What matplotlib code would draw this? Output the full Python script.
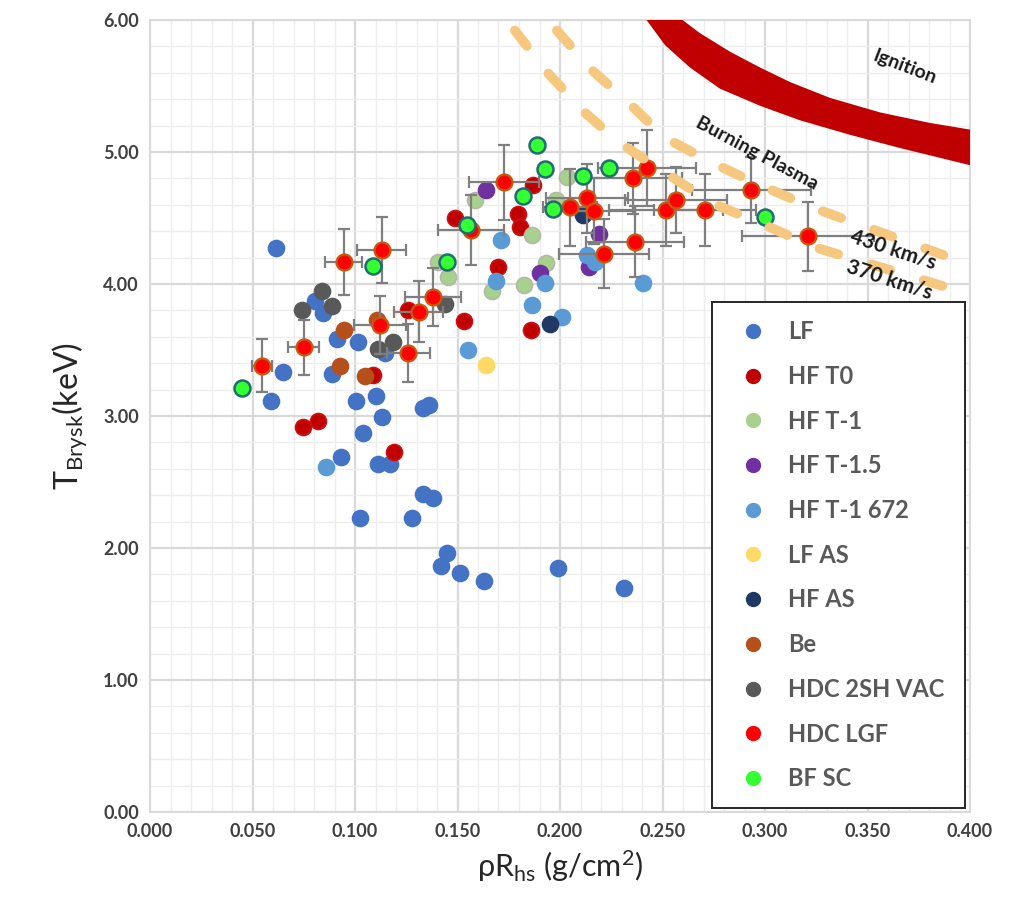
import numpy as np
import matplotlib
matplotlib.use("Agg")
import matplotlib.pyplot as plt
from matplotlib.lines import Line2D
from matplotlib.ticker import MultipleLocator, FormatStrFormatter

plt.rcParams['font.family'] = ['Lato', 'DejaVu Sans']
plt.rcParams['mathtext.fontset'] = 'custom'
plt.rcParams['mathtext.rm'] = 'Lato'
plt.rcParams['mathtext.it'] = 'Lato'

# =========================
# Data (rhoR in g/cm^2, T in keV)
# =========================
lf_x = [0.0615, 0.059, 0.065, 0.0805, 0.0845, 0.091, 0.089, 0.093, 0.1005, 0.1015,
        0.104, 0.1025, 0.110, 0.111, 0.113, 0.117, 0.1146, 0.128, 0.133, 0.136,
        0.133, 0.138, 0.142, 0.145, 0.151, 0.163, 0.199, 0.231]
lf_y = [4.27, 3.11, 3.33, 3.87, 3.78, 3.58, 3.32, 2.69, 3.11, 3.56,
        2.87, 2.23, 3.15, 2.64, 2.99, 2.64, 3.48, 2.23, 3.06, 3.08,
        2.41, 2.38, 1.86, 1.96, 1.81, 1.75, 1.85, 1.70]

hf_t0_x = [0.0745, 0.082, 0.119, 0.109, 0.126, 0.153, 0.149, 0.187, 0.1795, 0.1805, 0.1698, 0.186]
hf_t0_y = [2.92, 2.96, 2.73, 3.31, 3.80, 3.72, 4.50, 4.75, 4.53, 4.43, 4.13, 3.65]

hf_t1_x = [0.1405, 0.1455, 0.1585, 0.167, 0.1824, 0.1863, 0.193, 0.2033, 0.198]
hf_t1_y = [4.17, 4.05, 4.64, 3.95, 3.99, 4.37, 4.16, 4.81, 4.64]

hf_t15_x = [0.164, 0.190, 0.219, 0.214]
hf_t15_y = [4.71, 4.08, 4.38, 4.13]

hf_t1_672_x = [0.086, 0.155, 0.171, 0.169, 0.1865, 0.1927, 0.201, 0.213, 0.217, 0.2405]
hf_t1_672_y = [2.61, 3.50, 4.33, 4.02, 3.84, 4.01, 3.75, 4.22, 4.17, 4.01]

lf_as_x = [0.164]
lf_as_y = [3.39]

hf_as_x = [0.195, 0.211]
hf_as_y = [3.70, 4.52]

be_x = [0.0946, 0.0927, 0.1107, 0.105]
be_y = [3.65, 3.38, 3.73, 3.30]

hdc2sh_x = [0.084, 0.074, 0.089, 0.111, 0.1185, 0.144]
hdc2sh_y = [3.95, 3.80, 3.83, 3.51, 3.56, 3.85]

lgf_x = [0.0547, 0.075, 0.0946, 0.113, 0.1122, 0.126, 0.131, 0.138, 0.1566, 0.1727, 0.2049,
         0.213, 0.2166, 0.2215, 0.2356, 0.2424, 0.2366, 0.2517, 0.2566, 0.2707, 0.2934, 0.321]
lgf_y = [3.38, 3.52, 4.17, 4.26, 3.69, 3.48, 3.79, 3.90, 4.41, 4.77, 4.58,
         4.65, 4.55, 4.23, 4.80, 4.88, 4.32, 4.56, 4.64, 4.56, 4.71, 4.36]
lgf_xerr = [0.005, 0.0075, 0.009, 0.012, 0.0126, 0.0105, 0.012, 0.0138, 0.016, 0.017, 0.013,
            0.020, 0.020, 0.022, 0.024, 0.024, 0.024, 0.028, 0.025, 0.025, 0.029, 0.032]
lgf_yerr = [0.20, 0.21, 0.25, 0.25, 0.22, 0.22, 0.23, 0.22, 0.265, 0.285, 0.29,
            0.26, 0.25, 0.26, 0.27, 0.29, 0.27, 0.27, 0.25, 0.27, 0.25, 0.265]

bf_sc_x = [0.0449, 0.109, 0.145, 0.1546, 0.182, 0.189, 0.1927, 0.1967, 0.211, 0.224, 0.300]
bf_sc_y = [3.21, 4.14, 4.17, 4.45, 4.67, 5.05, 4.87, 4.57, 4.82, 4.88, 4.51]

# Ignition band (upper and lower edges)
ign_up_x = [0.2585, 0.2683, 0.2829, 0.2976, 0.3122, 0.3317, 0.3561, 0.3805, 0.400]
ign_up_y = [6.015, 5.90, 5.76, 5.64, 5.53, 5.41, 5.30, 5.22, 5.17]
ign_lo_x = [0.2415, 0.2512, 0.2634, 0.2780, 0.2976, 0.3171, 0.3415, 0.3659, 0.400]
ign_lo_y = [6.015, 5.81, 5.64, 5.48, 5.35, 5.24, 5.13, 5.03, 4.90]

# Burning plasma lines
v430_x = [0.1985, 0.2156, 0.235, 0.251, 0.274, 0.296, 0.323, 0.394, 0.400]
v430_y = [5.92, 5.62, 5.35, 5.11, 4.92, 4.76, 4.58, 4.18, 4.16]

v370_x = [0.178, 0.194, 0.212, 0.229, 0.2527, 0.2746, 0.301, 0.324, 0.394, 0.400]
v370_y = [5.92, 5.60, 5.30, 5.07, 4.83, 4.61, 4.44, 4.28, 3.95, 3.93]

series = [
    ("LF", lf_x, lf_y, "#4472C4", "#4472C4"),
    ("HF T0", hf_t0_x, hf_t0_y, "#C00000", "#D01010"),
    ("HF T-1", hf_t1_x, hf_t1_y, "#A9D18E", "#B0B8A8"),
    ("HF T-1.5", hf_t15_x, hf_t15_y, "#7030A0", "#7030A0"),
    ("HF T-1 672", hf_t1_672_x, hf_t1_672_y, "#5B9BD5", "#5B9BD5"),
    ("LF AS", lf_as_x, lf_as_y, "#FFD966", "#FFD966"),
    ("HF AS", hf_as_x, hf_as_y, "#203864", "#203864"),
    ("Be", be_x, be_y, "#B5501A", "#B5501A"),
    ("HDC 2SH VAC", hdc2sh_x, hdc2sh_y, "#595959", "#595959"),
]

fig = plt.figure(figsize=(10.16, 9.13), dpi=100)
ax = fig.add_axes([150 / 1016, 101 / 913, 820 / 1016, 792 / 913])

ax.set_xlim(0, 0.4)
ax.set_ylim(0, 6)
ax.xaxis.set_major_locator(MultipleLocator(0.05))
ax.xaxis.set_minor_locator(MultipleLocator(0.01))
ax.yaxis.set_major_locator(MultipleLocator(1.0))
ax.yaxis.set_minor_locator(MultipleLocator(0.2))
ax.xaxis.set_major_formatter(FormatStrFormatter("%.3f"))
ax.yaxis.set_major_formatter(FormatStrFormatter("%.2f"))
ax.grid(True, which="major", color="#D9D9D9", linewidth=1.6)
ax.grid(True, which="minor", color="#EDEDED", linewidth=1.0)
ax.set_axisbelow(True)
for sp in ax.spines.values():
    sp.set_color("#D9D9D9")
    sp.set_linewidth(1.4)
ax.tick_params(which="both", length=0)
ax.tick_params(axis="both", labelsize=13, colors="#404040", pad=8)
for lab in ax.get_xticklabels() + ax.get_yticklabels():
    lab.set_fontweight("bold")

ms = 11.5
for name, xs, ys, fc, ec in series:
    ax.plot(xs, ys, "o", ms=ms, mfc=fc, mec=ec, mew=1.2, zorder=3)

# HDC LGF with error bars
ax.errorbar(lgf_x, lgf_y, xerr=lgf_xerr, yerr=lgf_yerr, fmt="none",
            ecolor="#7F7F7F", elinewidth=1.6, capsize=4, capthick=1.6, zorder=4)
ax.plot(lgf_x, lgf_y, "o", ms=ms, mfc="#FF0000", mec="#C55A11", mew=1.6, zorder=5)
ax.plot(bf_sc_x, bf_sc_y, "o", ms=ms, mfc="#33FF33", mec="#1F6E6E", mew=1.8, zorder=5)

# Curves
ax.fill(ign_up_x + ign_lo_x[::-1], ign_up_y + ign_lo_y[::-1], color="#C00000",
        lw=0, zorder=6)
dash = dict(color="#F6C77F", lw=7, dash_capstyle="round", zorder=6)
ax.plot(v430_x, v430_y, dashes=(2.0, 3.6), **dash)
ax.plot(v370_x, v370_y, dashes=(2.0, 3.6), **dash)

ax.text(0.368, 5.64, "Ignition", rotation=-21, fontsize=14, fontweight="bold",
        ha="center", va="center", color="#1A1A1A", zorder=9)
ax.text(0.296, 4.99, "Burning Plasma", rotation=-28, fontsize=14, fontweight="bold",
        ha="center", va="center", color="#1A1A1A", zorder=9)
ax.text(0.3625, 4.26, "430 km/s", rotation=-18, fontsize=15, fontweight="bold",
        ha="center", va="center", color="#1A1A1A", zorder=9)
ax.text(0.3605, 4.03, "370 km/s", rotation=-18, fontsize=15, fontweight="bold",
        ha="center", va="center", color="#1A1A1A", zorder=9)

ax.set_ylabel(r"T$_{\mathrm{Brysk}}$(keV)", fontsize=23, color="#262626", labelpad=10)
ax.set_xlabel(r"$\rho$R$_{\mathrm{hs}}$ (g/cm$^2$)", fontsize=22, color="#262626", labelpad=6)

# Legend
handles = []
labels = []
for name, xs, ys, fc, ec in series:
    handles.append(Line2D([], [], ls="none", marker="o", ms=10, mfc=fc, mec=fc))
    labels.append(name)
handles.append(Line2D([], [], ls="none", marker="o", ms=10, mfc="#FF0000", mec="#FF0000"))
labels.append("HDC LGF")
handles.append(Line2D([], [], ls="none", marker="o", ms=10, mfc="#33FF33", mec="#33FF33"))
labels.append("BF SC")

leg = ax.legend(handles, labels, loc="lower left",
                bbox_to_anchor=(0.685, 0.005, 0.309, 0.641), mode="expand",
                frameon=True, fancybox=False, edgecolor="#262626", framealpha=1,
                prop={"size": 17, "weight": "bold"}, labelspacing=0.92,
                borderpad=0.75, handletextpad=0.5, borderaxespad=0)
leg.get_frame().set_linewidth(1.4)
for t in leg.get_texts():
    t.set_color("#595959")
leg.set_zorder(8)

fig.savefig("out.png", dpi=100)
